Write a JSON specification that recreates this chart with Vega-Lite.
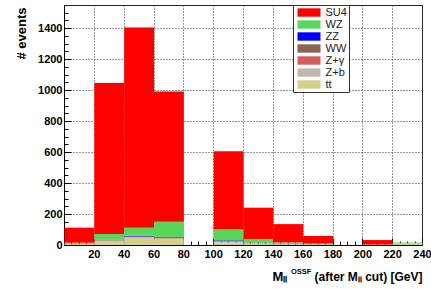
{
  "$schema": "https://vega.github.io/schema/vega-lite/v6.json",
  "width": 358,
  "height": 240,
  "autosize": {"type": "none"},
  "padding": {"left": 64, "top": 5, "right": 9, "bottom": 44},
  "background": "white",
  "config": {
    "view": {"stroke": "#222", "strokeWidth": 1},
    "font": "Liberation Sans"
  },
  "title": {
    "text": "OSSF",
    "orient": "top",
    "anchor": "start",
    "frame": "group",
    "font": "Liberation Sans",
    "fontSize": 7.5,
    "fontWeight": "bold",
    "color": "#000",
    "baseline": "alphabetic",
    "offset": 0,
    "dx": 227,
    "dy": 277
  },
  "data": {
    "values": [
      {"lo": 0, "hi": 20, "proc": "tt", "rank": 1, "n": 6},
      {"lo": 0, "hi": 20, "proc": "Z+b", "rank": 2, "n": 4},
      {"lo": 0, "hi": 20, "proc": "Z+γ", "rank": 3, "n": 1},
      {"lo": 0, "hi": 20, "proc": "WW", "rank": 4, "n": 1},
      {"lo": 0, "hi": 20, "proc": "ZZ", "rank": 5, "n": 1},
      {"lo": 0, "hi": 20, "proc": "WZ", "rank": 6, "n": 2},
      {"lo": 0, "hi": 20, "proc": "SU4", "rank": 7, "n": 97},
      {"lo": 20, "hi": 40, "proc": "tt", "rank": 1, "n": 21},
      {"lo": 20, "hi": 40, "proc": "Z+b", "rank": 2, "n": 8},
      {"lo": 20, "hi": 40, "proc": "Z+γ", "rank": 3, "n": 1},
      {"lo": 20, "hi": 40, "proc": "WW", "rank": 4, "n": 2},
      {"lo": 20, "hi": 40, "proc": "ZZ", "rank": 5, "n": 1},
      {"lo": 20, "hi": 40, "proc": "WZ", "rank": 6, "n": 38},
      {"lo": 20, "hi": 40, "proc": "SU4", "rank": 7, "n": 976},
      {"lo": 40, "hi": 60, "proc": "tt", "rank": 1, "n": 45},
      {"lo": 40, "hi": 60, "proc": "Z+b", "rank": 2, "n": 6},
      {"lo": 40, "hi": 60, "proc": "Z+γ", "rank": 3, "n": 2},
      {"lo": 40, "hi": 60, "proc": "WW", "rank": 4, "n": 2},
      {"lo": 40, "hi": 60, "proc": "ZZ", "rank": 5, "n": 5},
      {"lo": 40, "hi": 60, "proc": "WZ", "rank": 6, "n": 52},
      {"lo": 40, "hi": 60, "proc": "SU4", "rank": 7, "n": 1292},
      {"lo": 60, "hi": 80, "proc": "tt", "rank": 1, "n": 38},
      {"lo": 60, "hi": 80, "proc": "Z+b", "rank": 2, "n": 4},
      {"lo": 60, "hi": 80, "proc": "Z+γ", "rank": 3, "n": 2},
      {"lo": 60, "hi": 80, "proc": "WW", "rank": 4, "n": 2},
      {"lo": 60, "hi": 80, "proc": "ZZ", "rank": 5, "n": 4},
      {"lo": 60, "hi": 80, "proc": "WZ", "rank": 6, "n": 100},
      {"lo": 60, "hi": 80, "proc": "SU4", "rank": 7, "n": 842},
      {"lo": 100, "hi": 120, "proc": "tt", "rank": 1, "n": 17},
      {"lo": 100, "hi": 120, "proc": "Z+b", "rank": 2, "n": 4},
      {"lo": 100, "hi": 120, "proc": "Z+γ", "rank": 3, "n": 2},
      {"lo": 100, "hi": 120, "proc": "WW", "rank": 4, "n": 2},
      {"lo": 100, "hi": 120, "proc": "ZZ", "rank": 5, "n": 5},
      {"lo": 100, "hi": 120, "proc": "WZ", "rank": 6, "n": 70},
      {"lo": 100, "hi": 120, "proc": "SU4", "rank": 7, "n": 505},
      {"lo": 120, "hi": 140, "proc": "tt", "rank": 1, "n": 8},
      {"lo": 120, "hi": 140, "proc": "Z+b", "rank": 2, "n": 3},
      {"lo": 120, "hi": 140, "proc": "Z+γ", "rank": 3, "n": 1},
      {"lo": 120, "hi": 140, "proc": "WW", "rank": 4, "n": 1},
      {"lo": 120, "hi": 140, "proc": "ZZ", "rank": 5, "n": 2},
      {"lo": 120, "hi": 140, "proc": "WZ", "rank": 6, "n": 24},
      {"lo": 120, "hi": 140, "proc": "SU4", "rank": 7, "n": 202},
      {"lo": 140, "hi": 160, "proc": "tt", "rank": 1, "n": 4},
      {"lo": 140, "hi": 160, "proc": "Z+b", "rank": 2, "n": 2},
      {"lo": 140, "hi": 160, "proc": "ZZ", "rank": 5, "n": 1},
      {"lo": 140, "hi": 160, "proc": "WZ", "rank": 6, "n": 10},
      {"lo": 140, "hi": 160, "proc": "SU4", "rank": 7, "n": 118},
      {"lo": 160, "hi": 180, "proc": "tt", "rank": 1, "n": 3},
      {"lo": 160, "hi": 180, "proc": "WZ", "rank": 6, "n": 6},
      {"lo": 160, "hi": 180, "proc": "SU4", "rank": 7, "n": 49},
      {"lo": 200, "hi": 220, "proc": "tt", "rank": 1, "n": 1},
      {"lo": 200, "hi": 220, "proc": "WZ", "rank": 6, "n": 2},
      {"lo": 200, "hi": 220, "proc": "SU4", "rank": 7, "n": 29},
      {"lo": 220, "hi": 240, "proc": "tt", "rank": 1, "n": 12},
      {"lo": 220, "hi": 240, "proc": "WZ", "rank": 6, "n": 4}
    ]
  },
  "resolve": {"axis": {"x": "independent"}},
  "encoding": {
    "x2": {"field": "hi"},
    "y": {
      "field": "n",
      "type": "quantitative",
      "stack": "zero",
      "scale": {"domain": [0, 1550], "nice": false},
      "axis": {
        "values": [0, 50, 100, 150, 200, 250, 300, 350, 400, 450, 500, 550, 600, 650, 700, 750, 800, 850, 900, 950, 1000, 1050, 1100, 1150, 1200, 1250, 1300, 1350, 1400, 1450, 1500],
        "labelExpr": "datum.value % 200 === 0 ? datum.label : ''",
        "format": "d",
        "tickSize": {"condition": {"test": "datum.value % 200 === 0", "value": -7}, "value": -4},
        "tickColor": "#000",
        "grid": true,
        "gridColor": "#333",
        "gridDash": [1, 2],
        "gridOpacity": {"condition": {"test": "datum.value % 200 === 0 && datum.value > 0", "value": 1}, "value": 0},
        "domainColor": "#000",
        "labelFont": "Liberation Sans",
        "labelFontWeight": "bold",
        "labelFontSize": 11,
        "labelColor": "#000",
        "labelOverlap": false,
        "labelFlush": false,
        "labelPadding": 9,
        "title": "# events",
        "titleFont": "Liberation Sans",
        "titleFontSize": 13,
        "titleFontWeight": "bold",
        "titleColor": "#000",
        "titleAngle": -90,
        "titleAlign": "right",
        "titleBaseline": "middle",
        "titleX": -43,
        "titleY": 2
      }
    }
  },
  "layer": [
    {
      "mark": {"type": "bar", "binSpacing": 0, "strokeWidth": 0},
      "encoding": {
        "x": {
          "field": "lo",
          "type": "quantitative",
          "bin": "binned",
          "scale": {"domain": [0, 240], "nice": false, "zero": false},
          "axis": {
            "orient": "bottom",
            "values": [0, 5, 10, 15, 20, 25, 30, 35, 40, 45, 50, 55, 60, 65, 70, 75, 80, 85, 90, 95, 100, 105, 110, 115, 120, 125, 130, 135, 140, 145, 150, 155, 160, 165, 170, 175, 180, 185, 190, 195, 200, 205, 210, 215, 220, 225, 230, 235, 240],
            "labelExpr": "datum.value % 20 === 0 && datum.value > 0 ? datum.label : ''",
            "tickSize": {"condition": {"test": "datum.value % 20 === 0", "value": -7}, "value": -4},
            "tickColor": "#000",
            "tickWidth": 1,
            "grid": true,
            "gridColor": "#333",
            "gridDash": [1, 2],
            "gridOpacity": {"condition": {"test": "datum.value % 20 === 0", "value": 1}, "value": 0},
            "domainColor": "#000",
            "labelFont": "Liberation Sans",
            "labelFontWeight": "bold",
            "labelFontSize": 11,
            "labelColor": "#000",
            "labelOverlap": false,
            "labelFlush": false,
            "labelPadding": 10,
            "title": "(after Mₗₗ cut) [GeV]",
            "titleFont": "Liberation Sans",
            "titleFontSize": 12,
            "titleFontWeight": "bold",
            "titleColor": "#000",
            "titleAnchor": "end",
            "titleAlign": "right",
            "titleBaseline": "alphabetic",
            "titleX": 358,
            "titleY": 35
          }
        },
        "color": {
          "field": "proc",
          "type": "nominal",
          "scale": {
            "domain": ["SU4", "WZ", "ZZ", "WW", "Z+γ", "Z+b", "tt"],
            "range": ["#ff0000", "#5ad75a", "#0000ff", "#8b6450", "#d45c5c", "#c2b8ad", "#d4d08a"]
          },
          "legend": {
            "orient": "none",
            "legendX": 229,
            "legendY": 0,
            "title": null,
            "fillColor": "white",
            "strokeColor": "#333",
            "padding": 2,
            "rowPadding": 0,
            "symbolType": "M-2.3,-0.84H2.3V0.84H-2.3Z",
            "symbolSize": 100,
            "symbolOffset": 8.5,
            "symbolStrokeWidth": 0,
            "symbolOpacity": 1,
            "labelFont": "Liberation Sans",
            "labelFontSize": 11,
            "labelColor": "#222",
            "labelOffset": 11,
            "labelExpr": "datum.label + '\u00a0\u00a0\u00a0\u00a0\u00a0\u00a0\u00a0\u00a0\u00a0\u00a0\u00a0\u00a0\u00a0\u00a0\u00a0\u00a0\u00a0\u00a0\u00a0\u00a0\u00a0\u00a0\u00a0\u00a0\u00a0'"
          }
        },
        "order": {"field": "rank", "type": "quantitative"}
      }
    },
    {
      "mark": {"type": "bar", "binSpacing": 0, "opacity": 0},
      "encoding": {
        "x": {
          "field": "lo",
          "type": "quantitative",
          "bin": "binned",
          "axis": {
            "orient": "top",
            "domain": false,
            "ticks": false,
            "labels": false,
            "grid": false,
            "title": "Mₗₗ",
            "titleFont": "Liberation Sans",
            "titleFontSize": 13,
            "titleFontWeight": "bold",
            "titleColor": "#000",
            "titleAnchor": "start",
            "titleAlign": "left",
            "titleBaseline": "alphabetic",
            "titleX": 208,
            "titleY": 275
          }
        }
      }
    }
  ]
}
